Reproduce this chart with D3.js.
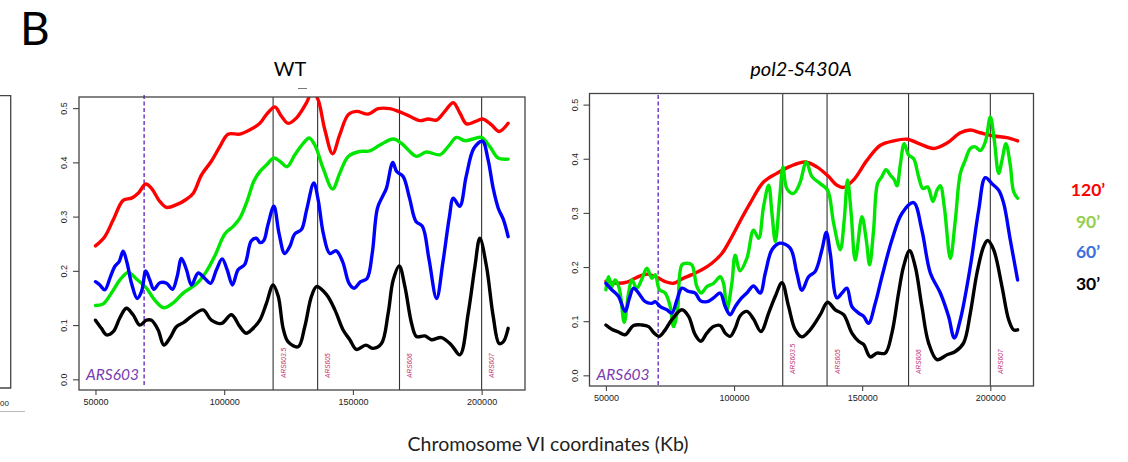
<!DOCTYPE html>
<html>
<head>
<meta charset="utf-8">
<script src="https://cdn.jsdelivr.net/npm/d3@7/dist/d3.min.js"></script>
<style>
  html, body { margin: 0; padding: 0; background: #fff; }
  svg { display: block; }
</style>
</head>
<body>
<svg id="fig" width="1128" height="462"></svg>
<script>
// ---- data ----------------------------------------------------------------
const xTicks = [50000, 100000, 150000, 200000];
const yTicks = [0, 0.1, 0.2, 0.3, 0.4, 0.5];
const arsNames = ["ARS603.5", "ARS605", "ARS606", "ARS607"];
const arsPos = [119000, 136300, 168100, 200000];
const ars603Pos = [68900, 70400];          // WT, pol2-S430A
const panelTitles = ["WT", "pol2-S430A"];
const timeLabels = ["120\u2019", "90\u2019", "60\u2019", "30\u2019"];

// WT: [position (bp), fraction replicated]
const wt120 = [[50000,.246],[53600,.263],[56900,.294],[60750,.33],[64000,.334],[66600,.343],[69550,.36],[71750,.352],[75000,.328],[77600,.317],[81500,.322],[85350,.332],[88000,.343],[91200,.377],[95000,.402],[98300,.429],[101500,.452],[106000,.452],[110000,.46],[113850,.472],[116400,.488],[119700,.502],[122250,.485],[124850,.472],[128100,.482],[132000,.51],[134300,.532],[136500,.515],[139100,.46],[142100,.416],[144900,.451],[148200,.488],[151400,.494],[155900,.489],[159800,.499],[164350,.499],[168200,.493],[172100,.485],[176000,.477],[179250,.48],[182500,.478],[185700,.494],[189000,.51],[191550,.491],[194150,.471],[197400,.475],[200400,.48],[203850,.469],[206800,.457],[210300,.472]];
const wt90 = [[50000,.136],[53000,.139],[56200,.159],[59450,.183],[62700,.197],[65900,.185],[69800,.168],[73050,.146],[76550,.132],[80200,.141],[84050,.159],[89250,.176],[93100,.199],[96400,.228],[100250,.268],[103500,.282],[106100,.297],[109000,.33],[111500,.365],[113850,.383],[116400,.395],[119300,.408],[121600,.402],[124450,.392],[127450,.414],[130700,.435],[133000,.445],[135200,.432],[138450,.389],[142100,.351],[144900,.38],[148200,.411],[152700,.42],[156600,.421],[160500,.432],[165650,.443],[168900,.435],[172100,.42],[174700,.411],[178600,.419],[183800,.414],[187000,.429],[190250,.446],[193450,.44],[196700,.443],[199900,.446],[203200,.429],[206400,.408],[210300,.406]];
const wt60 = [[50000,.18],[51700,.174],[53600,.165],[55800,.189],[57500,.208],[59200,.217],[60750,.236],[62300,.214],[64000,.177],[66200,.149],[67900,.162],[69550,.2],[71100,.183],[72700,.166],[75000,.178],[77600,.177],[79900,.166],[81700,.189],[83400,.223],[85350,.202],[87300,.174],[89900,.196],[92500,.186],[94700,.177],[97000,.202],[99200,.222],[101150,.202],[103200,.174],[105400,.202],[108000,.212],[110500,.255],[112500,.26],[114000,.252],[115400,.256],[117000,.285],[119300,.319],[121300,.269],[123500,.232],[125500,.245],[127400,.268],[130000,.276],[132000,.312],[134800,.362],[136500,.331],[138500,.269],[141000,.232],[143500,.237],[146000,.217],[148500,.177],[150500,.168],[153000,.18],[155500,.186],[157500,.232],[159500,.315],[161500,.337],[163000,.352],[165500,.4],[167000,.383],[169500,.374],[172000,.334],[174500,.291],[177000,.282],[179500,.223],[182500,.149],[185000,.217],[187500,.3],[189000,.334],[191500,.319],[194000,.374],[197000,.426],[200300,.439],[202500,.405],[204500,.352],[206500,.315],[208500,.294],[210300,.263]];
const wt30 = [[50000,.109],[52300,.094],[54300,.082],[56900,.088],[59450,.113],[62000,.131],[64600,.119],[67200,.1],[69800,.109],[71750,.109],[74350,.091],[76550,.063],[78900,.076],[81450,.097],[84300,.105],[87300,.116],[91800,.128],[95000,.109],[98950,.103],[102800,.119],[106100,.097],[108500,.085],[111000,.093],[113850,.109],[116400,.14],[119000,.174],[121000,.153],[122900,.094],[124850,.069],[128750,.06],[131300,.097],[133900,.153],[135900,.171],[139750,.156],[143000,.128],[146200,.091],[148800,.073],[151400,.055],[155000,.063],[157900,.057],[161100,.066],[163700,.122],[165650,.183],[168000,.209],[170200,.171],[172800,.103],[174700,.079],[178000,.08],[180500,.073],[184400,.077],[188300,.063],[191550,.045],[194800,.122],[197400,.208],[199300,.26],[201900,.208],[204500,.116],[206800,.066],[208400,.069],[210300,.094]];

// pol2-S430A
const mut120 = [[50000,.174],[54300,.17],[58200,.172],[62100,.181],[66000,.187],[69900,.181],[73150,.173],[76400,.17],[79650,.178],[83550,.186],[87450,.195],[91350,.207],[95250,.225],[99150,.256],[102400,.285],[106300,.318],[111500,.357],[116700,.373],[121900,.386],[127800,.394],[132300,.385],[136900,.367],[140150,.351],[142750,.347],[146650,.361],[151850,.397],[157100,.425],[162300,.433],[167500,.436],[172700,.427],[177900,.419],[183100,.429],[188300,.448],[192200,.453],[196100,.448],[201300,.442],[206500,.439],[210650,.433]];
const mut90 = [[50000,.158],[51000,.182],[52300,.164],[53600,.176],[55200,.161],[57150,.098],[58850,.152],[60100,.176],[62100,.161],[64050,.178],[66000,.198],[67950,.179],[69250,.186],[70900,.158],[73150,.152],[75100,.127],[76400,.09],[77950,.121],[79650,.204],[81600,.207],[83550,.204],[85500,.164],[87200,.152],[89400,.164],[92000,.17],[94600,.182],[95900,.17],[97200,.121],[99150,.17],[100450,.222],[102300,.193],[105000,.216],[107600,.268],[109600,.253],[111500,.311],[113500,.351],[114800,.299],[116100,.247],[117800,.327],[119100,.385],[120600,.345],[123200,.336],[125600,.354],[128200,.394],[130400,.367],[133650,.354],[136500,.342],[138850,.281],[141450,.232],[143000,.287],[144300,.361],[145700,.299],[147300,.213],[149900,.293],[151600,.25],[152900,.204],[154450,.268],[156000,.354],[157700,.367],[159300,.38],[160950,.37],[162550,.361],[163600,.35],[164850,.388],[166400,.428],[168100,.407],[170100,.4],[172000,.367],[173700,.345],[175550,.348],[177600,.321],[179200,.342],[180500,.35],[182050,.311],[184400,.216],[186350,.287],[188300,.373],[190200,.397],[192200,.419],[194150,.422],[196100,.415],[198050,.431],[200000,.477],[201550,.434],[203250,.373],[204550,.397],[206100,.428],[207800,.388],[209100,.339],[210650,.327]];
const mut60 = [[50000,.17],[52300,.158],[54900,.146],[57500,.118],[59200,.143],[60800,.161],[62750,.152],[65350,.136],[67950,.133],[69250,.136],[71200,.127],[73800,.121],[75750,.115],[77700,.139],[79650,.161],[82250,.155],[84850,.152],[86800,.138],[89400,.136],[92000,.143],[94600,.152],[96550,.127],[98500,.112],[100450,.127],[102400,.14],[105000,.152],[107600,.165],[110200,.152],[112200,.189],[114800,.232],[117800,.244],[121900,.235],[124500,.189],[126500,.157],[129100,.182],[131700,.192],[134300,.232],[136000,.264],[137550,.225],[140150,.143],[142100,.152],[144050,.161],[146000,.127],[148600,.115],[150550,.109],[152500,.096],[155100,.133],[157700,.182],[161600,.25],[165500,.299],[170050,.319],[173300,.268],[176600,.189],[180500,.152],[183700,.109],[185950,.069],[188300,.103],[192200,.201],[195450,.305],[198050,.365],[200650,.354],[203250,.342],[205200,.318],[207800,.25],[210650,.176]];
const mut30 = [[50000,.093],[52300,.085],[54900,.08],[57500,.075],[60800,.092],[64050,.093],[66650,.09],[68850,.078],[70800,.072],[73150,.084],[75750,.103],[79650,.121],[82250,.109],[84850,.075],[87050,.063],[89400,.078],[92000,.09],[94600,.092],[96550,.078],[98500,.072],[100450,.087],[102400,.11],[105000,.118],[107600,.104],[110500,.081],[113500,.115],[116100,.146],[118700,.171],[121300,.127],[123900,.084],[126500,.071],[129700,.084],[133650,.112],[136500,.135],[139500,.121],[142750,.112],[146000,.078],[148600,.063],[150550,.057],[153150,.034],[155750,.041],[159000,.041],[161600,.078],[164200,.152],[166150,.201],[168500,.23],[170700,.201],[173300,.127],[175900,.06],[179200,.029],[183100,.038],[186350,.044],[189600,.06],[192200,.115],[194800,.189],[197400,.238],[198950,.249],[201300,.232],[204550,.164],[207150,.103],[209100,.084],[210650,.084]];

const seriesColors = ["#ff0000", "#00e600", "#0000ff", "#000000"];
const legendColors = ["#ff0000", "#92d050", "#3d6fe0", "#000000"];

// ---- layout ----------------------------------------------------------------
const svg = d3.select("#fig");
const sans = "'Lato', 'Open Sans', sans-serif";
const rfont = "'Liberation Sans', Arial, sans-serif";

const panels = [
  { title: panelTitles[0], italic: false, box: { l: 79, r: 525, t: 97, b: 390 },
    series: [wt120, wt90, wt60, wt30], ars603: ars603Pos[0], titleX: 290 },
  { title: panelTitles[1], italic: true, box: { l: 589.5, r: 1033.5, t: 93.5, b: 386 },
    series: [mut120, mut90, mut60, mut30], ars603: ars603Pos[1], titleX: 801 }
];

// panel letter
svg.append("text").attr("x", 20).attr("y", 45)
  .attr("font-family", sans).attr("font-size", 46).attr("fill", "#000").text("B");

// edge of the neighbouring panel on the left
const edge = svg.append("g").attr("stroke", "#444").attr("stroke-width", 1.3).attr("fill", "none");
edge.append("path").attr("d", "M0,95.7H10.7V388H0");
svg.append("text").attr("x", 0).attr("y", 406)
  .attr("font-family", rfont).attr("font-size", 8).attr("fill", "#222").text("00");
svg.append("line").attr("x1", 0).attr("x2", 25).attr("y1", 411.5).attr("y2", 411.5)
  .attr("stroke", "#bbb").attr("stroke-width", 1);

panels.forEach((p, i) => {
  const b = p.box;
  const x = d3.scaleLinear().domain([43600, 216850]).range([b.l, b.r]);
  const y = d3.scaleLinear().domain([-0.0197, 0.5205]).range([b.b, b.t]);
  const g = svg.append("g");

  const clipId = "clip" + i;
  svg.append("clipPath").attr("id", clipId).append("rect")
    .attr("x", b.l).attr("y", b.t).attr("width", b.r - b.l).attr("height", b.b - b.t);

  // origin markers
  g.selectAll("line.ars").data(arsPos).join("line").attr("class", "ars")
    .attr("x1", d => x(d)).attr("x2", d => x(d)).attr("y1", b.t).attr("y2", b.b)
    .attr("stroke", "#333").attr("stroke-width", 1.1);
  g.selectAll("text.ars").data(arsNames).join("text").attr("class", "ars")
    .attr("transform", (d, k) => `translate(${x(arsPos[k]) + 12.5},${b.b - 12}) rotate(-90)`)
    .attr("font-family", rfont).attr("font-size", 6.6).attr("font-style", "italic")
    .attr("fill", "#c0306e").text(d => d);

  g.append("line")
    .attr("x1", x(p.ars603)).attr("x2", x(p.ars603)).attr("y1", 95).attr("y2", 387)
    .attr("stroke", "#6a2fc4").attr("stroke-width", 1.4).attr("stroke-dasharray", "4,2.5");
  g.append("text").attr("x", b.l + 7).attr("y", 380)
    .attr("font-family", sans).attr("font-style", "italic").attr("font-size", 15.5)
    .attr("fill", "#7a3cb0").text("ARS603");

  // curves
  const line = d3.line().x(d => x(d[0])).y(d => y(d[1])).curve(d3.curveCatmullRom.alpha(0.5));
  const lg = g.append("g").attr("clip-path", `url(#${clipId})`);
  p.series.forEach((s, k) => {
    lg.append("path").datum(s).attr("d", line).attr("fill", "none")
      .attr("stroke", seriesColors[k]).attr("stroke-width", 3.4)
      .attr("stroke-linejoin", "round").attr("stroke-linecap", "round");
  });

  // frame
  g.append("rect").attr("x", b.l).attr("y", b.t).attr("width", b.r - b.l).attr("height", b.b - b.t)
    .attr("fill", "none").attr("stroke", "#444").attr("stroke-width", 1.3);

  // axes
  const xa = g.append("g").attr("transform", `translate(0,${b.b})`)
    .call(d3.axisBottom(x).tickValues(xTicks).tickSize(5).tickPadding(4).tickFormat(d3.format("d")));
  xa.select(".domain").remove();
  xa.selectAll("line").attr("stroke", "#444").attr("stroke-width", 1.1);
  xa.selectAll("text").attr("font-family", rfont).attr("font-size", 9).attr("fill", "#222");

  const ya = g.append("g").attr("transform", `translate(${b.l},0)`)
    .call(d3.axisLeft(y).tickValues(yTicks).tickSize(6).tickFormat(d3.format(".1f")));
  ya.select(".domain").remove();
  ya.selectAll("line").attr("stroke", "#444").attr("stroke-width", 1.1);
  ya.selectAll("text")
    .attr("font-family", rfont).attr("font-size", 9).attr("fill", "#222")
    .attr("x", null).attr("dy", null)
    .attr("text-anchor", "middle")
    .attr("transform", "translate(-12,0) rotate(-90)");

  // title
  g.append("text").attr("x", p.titleX).attr("y", 76).attr("text-anchor", "middle")
    .attr("font-family", sans).attr("font-size", 20).attr("font-style", p.italic ? "italic" : "normal")
    .attr("fill", "#000").text(p.title);
});

// small mark under the WT title
svg.append("line").attr("x1", 298).attr("x2", 307).attr("y1", 88.5).attr("y2", 88.5)
  .attr("stroke", "#777").attr("stroke-width", 1);

// shared x-axis title
svg.append("text").attr("x", 548).attr("y", 451).attr("text-anchor", "middle")
  .attr("font-family", sans).attr("font-size", 19.5).attr("fill", "#222")
  .text("Chromosome VI coordinates (Kb)");

// time-point legend
const legY = [196, 228, 258, 290];
svg.append("g").selectAll("text").data(timeLabels).join("text")
  .attr("x", 1088).attr("y", (d, k) => legY[k]).attr("text-anchor", "middle")
  .attr("font-family", sans).attr("font-weight", "bold").attr("font-size", 17.5)
  .attr("fill", (d, k) => legendColors[k]).text(d => d);
</script>
</body>
</html>
